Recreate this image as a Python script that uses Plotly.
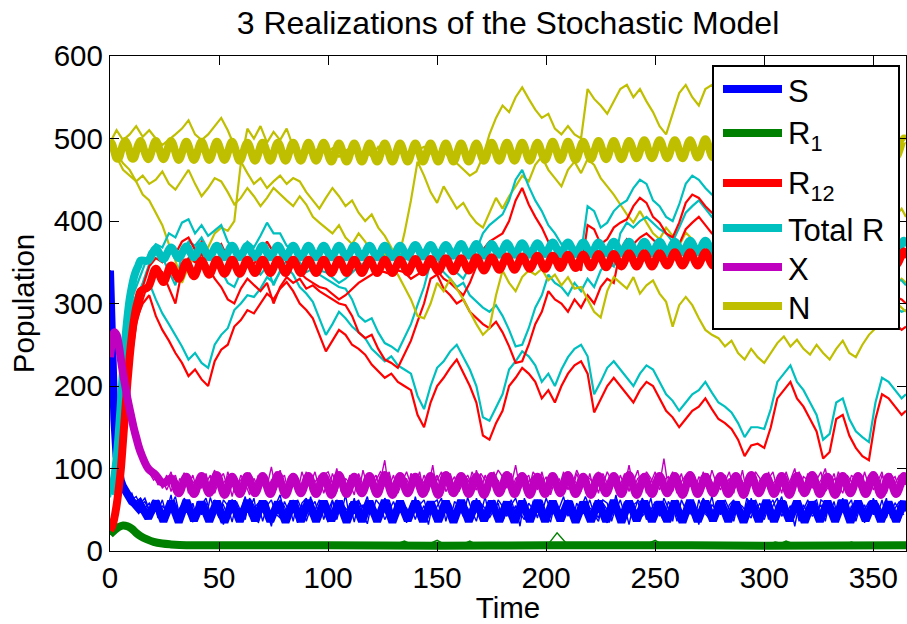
import plotly.graph_objects as go

# ---------------- time grids (sampling instants of the read-off values) ----------------
T3 = list(range(0, 364, 3)) + [365]          # 3-day samples for N / R traces
T2 = list(range(0, 365, 2))                  # 2-day samples for S / X traces
T5 = list(range(0, 366, 5))                  # 5-day samples for R1 traces
TD = list(range(0, 15)) + [17.5 + 3.5 * k for k in range(100)] + [365]   # deterministic curves
TR1D = [0, 2, 4, 6, 8, 10, 12, 14, 17, 20, 24, 28, 35, 50, 100, 150, 200, 250, 300, 365]

# ---------------- stochastic realizations: R12 ----------------
R12_A = [22, 55, 140, 230, 280, 300, 310, 285, 268, 255,
         240, 228, 212, 220, 208, 200, 230, 244, 250, 272,
         280, 292, 288, 300, 312, 305, 318, 326, 315, 300,
         292, 282, 262, 242, 255, 268, 262, 250, 245, 238,
         226, 218, 210, 215, 205, 200, 195, 165, 150, 180,
         200, 210, 222, 232, 215, 200, 180, 140, 135, 155,
         170, 200, 210, 222, 215, 205, 185, 195, 180, 200,
         215, 225, 230, 215, 168, 185, 200, 210, 200, 190,
         180, 195, 205, 200, 185, 170, 162, 150, 160, 170,
         175, 185, 172, 160, 155, 148, 135, 115, 128, 130,
         125, 150, 185, 195, 205, 185, 175, 160, 145, 112,
         120, 160, 165, 140, 125, 115, 110, 160, 190, 185,
         175, 165, 170]
TOTR_A = [70, 115, 215, 290, 310, 318, 325, 305, 288, 275,
          262, 248, 232, 240, 228, 222, 250, 262, 270, 292,
          300, 310, 308, 318, 332, 325, 338, 345, 335, 320,
          312, 302, 282, 262, 275, 290, 282, 272, 265, 258,
          245, 238, 230, 236, 225, 220, 215, 188, 172, 200,
          222, 230, 242, 250, 235, 220, 200, 162, 158, 175,
          190, 220, 230, 242, 236, 225, 205, 215, 200, 220,
          235, 245, 250, 236, 190, 205, 222, 230, 220, 210,
          200, 215, 225, 220, 205, 190, 182, 170, 180, 190,
          195, 205, 192, 180, 175, 168, 155, 138, 150, 150,
          148, 172, 205, 215, 225, 205, 195, 180, 165, 135,
          142, 180, 185, 160, 145, 138, 132, 180, 210, 205,
          195, 185, 190]
R12_B = [20, 50, 130, 220, 275, 305, 330, 345, 338, 320,
         300, 340, 355, 350, 360, 345, 330, 320, 305, 300,
         318, 330, 322, 315, 325, 300, 320, 332, 325, 330,
         318, 322, 315, 310, 305, 300, 298, 285, 265, 258,
         262, 245, 232, 228, 222, 238, 255, 278, 300, 330,
         335, 318, 310, 300, 305, 290, 282, 275, 270, 278,
         265, 248, 228, 230, 250, 275, 290, 315, 305, 300,
         290, 305, 295, 310, 300, 320, 330, 325, 365, 378,
         372, 380, 385, 378, 370, 365, 355, 372, 390, 398,
         405, 395, 385, 380, 375, 370, 365, 360, 355, 350,
         345, 340, 335, 330, 325, 320, 318, 315, 310, 305,
         300, 300, 295, 300, 292, 288, 285, 290, 285, 280,
         275, 268, 272]
TOTR_B = [65, 105, 205, 280, 305, 325, 348, 362, 356, 340,
          322, 360, 375, 370, 380, 365, 350, 340, 325, 320,
          338, 350, 342, 335, 345, 322, 340, 352, 345, 350,
          338, 342, 335, 330, 325, 320, 318, 305, 285, 278,
          282, 265, 252, 248, 242, 258, 275, 298, 320, 350,
          355, 338, 330, 320, 325, 310, 302, 295, 290, 298,
          285, 268, 248, 250, 270, 295, 310, 335, 325, 320,
          310, 325, 315, 330, 320, 340, 350, 345, 385, 398,
          392, 400, 405, 398, 390, 385, 375, 392, 410, 418,
          425, 415, 405, 400, 395, 390, 385, 380, 375, 370,
          365, 360, 355, 350, 345, 340, 338, 335, 330, 325,
          320, 320, 315, 320, 312, 308, 305, 310, 305, 300,
          295, 290, 292]
R12_C = [25, 60, 150, 240, 290, 320, 345, 355, 350, 365,
         360, 375, 380, 365, 375, 360, 365, 372, 355, 345,
         340, 355, 348, 360, 375, 362, 365, 350, 345, 338,
         330, 325, 320, 318, 312, 305, 310, 318, 325, 330,
         335, 340, 338, 335, 340, 338, 330, 335, 340, 345,
         340, 330, 325, 318, 310, 325, 345, 365, 375, 380,
         385, 400, 425, 440, 420, 405, 392, 375, 365, 352,
         355, 348, 340, 395, 390, 372, 378, 392, 398, 402,
         418, 428, 422, 405, 398, 385, 380, 398, 422, 432,
         428, 418, 410, 405, 400, 395, 390, 385, 380, 375,
         370, 365, 360, 355, 350, 345, 342, 340, 338, 335,
         332, 330, 328, 325, 322, 320, 318, 315, 312, 310,
         308, 305, 300]
TOTR_C = [75, 120, 220, 300, 320, 340, 362, 372, 368, 385,
          380, 398, 402, 385, 395, 382, 388, 395, 375, 365,
          360, 375, 368, 382, 398, 385, 385, 370, 365, 358,
          350, 345, 340, 338, 332, 325, 330, 338, 345, 350,
          355, 360, 358, 355, 360, 358, 350, 355, 360, 365,
          360, 350, 345, 338, 330, 345, 365, 385, 395, 402,
          408, 425, 450, 462, 442, 425, 412, 395, 385, 372,
          375, 368, 360, 418, 412, 392, 398, 412, 420, 425,
          440, 450, 445, 425, 418, 405, 400, 420, 445, 455,
          450, 440, 432, 428, 422, 418, 412, 408, 402, 398,
          392, 388, 382, 378, 372, 368, 365, 362, 360, 358,
          355, 352, 350, 348, 345, 342, 340, 338, 335, 332,
          330, 328, 322]

# ---------------- stochastic realizations: N ----------------
N_A = [495, 510, 498, 505, 515, 502, 510, 500, 492, 498,
       505, 512, 522, 505, 498, 505, 515, 525, 510, 490,
       472, 458, 445, 452, 440, 448, 455, 445, 452, 448,
       435, 425, 415, 428, 440, 430, 418, 425, 410, 400,
       408, 392, 382, 368, 352, 385, 425, 472, 455, 435,
       422, 442, 428, 415, 422, 408, 398, 392, 410, 428,
       415, 430, 442, 455, 448, 468, 478, 462, 452, 442,
       462, 472, 458, 475, 468, 452, 442, 432, 420, 408,
       398, 412, 398, 385, 378, 392, 382, 370, 386, 378,
       366, 358, 352, 348, 355, 345, 338, 345, 335, 330,
       338, 345, 335, 328, 335, 325, 318, 325, 332, 320,
       315, 322, 330, 318, 312, 320, 328, 318, 325, 330,
       322, 330, 325]
N_B = [490, 482, 470, 462, 448, 432, 425, 410, 395, 372,
       352, 325, 345, 358, 348, 368, 385, 392, 388, 400,
       470, 512, 500, 515, 495, 508, 498, 512, 490, 478,
       485, 480, 490, 482, 488, 478, 485, 490, 480, 486,
       478, 490, 484, 480, 488, 482, 478, 486, 490, 482,
       478, 485, 475, 470, 462, 455, 460, 478, 505, 525,
       540, 532, 550, 562, 548, 535, 525, 530, 512, 505,
       515, 505, 500, 560, 548, 540, 530, 545, 560, 565,
       550, 560, 545, 532, 515, 505, 530, 555, 565, 550,
       540, 560, 565, 555, 540, 530, 520, 510, 500, 490,
       480, 470, 465, 455, 448, 440, 435, 428, 422, 430,
       425, 418, 410, 420, 415, 408, 400, 410, 402, 395,
       405, 415, 405]
N_C = [492, 478, 462, 455, 448, 455, 445, 450, 460, 445,
       438, 450, 462, 445, 430, 440, 452, 448, 435, 420,
       428, 440, 430, 418, 428, 440, 432, 425, 418, 430,
       420, 405, 398, 392, 385, 395, 380, 372, 385, 375,
       362, 355, 362, 345, 335, 320, 305, 285, 282, 300,
       325, 315, 330, 318, 305, 290, 275, 262, 270, 310,
       340, 325, 315, 332, 340, 335, 342, 328, 335, 322,
       332, 318, 320, 305, 290, 283, 315, 332, 325, 318,
       332, 312, 322, 328, 312, 302, 272, 298, 308, 298,
       282, 268, 262, 258, 248, 255, 240, 232, 245, 235,
       228, 240, 252, 260, 248, 256, 245, 238, 250, 240,
       232, 245, 255, 240, 235, 250, 262, 270, 282, 295,
       302, 295, 290]

# ---------------- stochastic realizations: S ----------------
S_A = [340, 155, 100, 82, 72, 66, 60, 64, 52, 58,
       45, 62, 50, 38, 55, 66, 42, 58, 48, 35,
       60, 52, 40, 65, 48, 55, 32, 58, 62, 45,
       52, 38, 64, 55, 42, 60, 48, 30, 56, 68,
       44, 58, 36, 62, 50, 45, 66, 40, 55, 48,
       35, 60, 52, 44, 68, 38, 55, 62, 45, 33,
       58, 50, 42, 64, 56, 36, 60, 48, 52, 40,
       66, 45, 55, 32, 58, 62, 44, 50, 38, 60,
       54, 42, 65, 48, 36, 58, 52, 45, 62, 38,
       50, 60, 44, 55, 30, 64, 48, 56, 40, 62,
       46, 35, 58, 52, 66, 42, 55, 38, 60, 48,
       62, 44, 36, 58, 50, 45, 68, 40, 54, 32,
       56, 60, 42, 48, 64, 38, 52, 58, 44, 55,
       36, 62, 50, 45, 58, 32, 60, 48, 66, 42,
       52, 40, 56, 62, 44, 50, 35, 64, 48, 58,
       45, 60, 38, 52, 66, 44, 55, 30, 58, 50,
       62, 42, 48, 56, 36, 60, 52, 45, 64, 38,
       55, 48, 60, 34, 58, 50, 44, 62, 40, 56,
       48, 36, 52]
S_B = [340, 165, 108, 85, 75, 62, 66, 55, 60, 48,
       62, 40, 55, 48, 68, 36, 52, 60, 44, 58,
       38, 56, 64, 45, 52, 40, 62, 55, 35, 60,
       48, 66, 42, 52, 58, 36, 55, 62, 45, 40,
       60, 48, 55, 34, 58, 64, 42, 50, 62, 38,
       56, 44, 62, 50, 40, 58, 35, 60, 52, 66,
       42, 62, 55, 38, 50, 60, 45, 56, 34, 58,
       50, 60, 40, 58, 46, 54, 64, 36, 58, 44,
       62, 55, 38, 60, 52, 44, 66, 40, 50, 58,
       36, 48, 62, 44, 58, 52, 38, 60, 55, 46,
       64, 50, 44, 40, 55, 62, 36, 58, 48, 52,
       40, 58, 62, 46, 34, 56, 50, 62, 44, 60,
       48, 38, 64, 55, 42, 58, 46, 36, 60, 52,
       58, 46, 40, 62, 52, 48, 64, 55, 38, 60,
       44, 62, 50, 36, 58, 54, 46, 40, 62, 48,
       60, 38, 55, 64, 42, 52, 48, 60, 36, 56,
       46, 58, 62, 40, 54, 44, 60, 38, 52, 62,
       40, 60, 46, 56, 42, 64, 52, 36, 58, 48,
       58, 50, 44]
S_C = [340, 145, 92, 78, 66, 70, 55, 58, 64, 50,
       55, 48, 62, 42, 50, 58, 38, 64, 55, 46,
       52, 44, 58, 36, 62, 50, 56, 42, 60, 54,
       38, 58, 50, 64, 34, 52, 60, 44, 50, 62,
       54, 40, 62, 46, 56, 36, 52, 60, 42, 58,
       48, 62, 38, 58, 52, 46, 64, 40, 56, 50,
       60, 36, 52, 48, 62, 44, 56, 58, 40, 54,
       38, 56, 62, 44, 52, 36, 58, 60, 48, 42,
       58, 46, 52, 38, 64, 50, 40, 56, 44, 62,
       54, 42, 56, 64, 46, 38, 58, 50, 62, 44,
       40, 60, 52, 46, 38, 56, 60, 44, 52, 66,
       52, 48, 40, 62, 58, 36, 54, 46, 60, 48,
       44, 62, 56, 38, 50, 60, 42, 64, 52, 36,
       62, 40, 58, 52, 36, 62, 48, 42, 56, 50,
       58, 48, 42, 60, 52, 38, 64, 56, 44, 50,
       38, 54, 62, 46, 50, 60, 36, 58, 52, 44,
       56, 50, 38, 62, 58, 46, 40, 62, 48, 54,
       62, 36, 54, 50, 60, 44, 58, 48, 64, 40,
       52, 60, 46]

# ---------------- stochastic realizations: X ----------------
X_A = [235, 262, 250, 215, 190, 162, 140, 122, 108, 98,
       90, 85, 78, 92, 72, 88, 80, 95, 70, 84,
       78, 92, 68, 86, 98, 74, 82, 90, 66, 88,
       80, 72, 95, 84, 70, 90, 78, 102, 74, 86,
       92, 68, 82, 88, 76, 96, 72, 84, 90, 70,
       86, 78, 100, 72, 88, 82, 68, 94, 80, 76,
       90, 74, 86, 110, 70, 84, 92, 76, 88, 72,
       82, 96, 70, 86, 80, 92, 74, 88, 68, 84,
       94, 76, 88, 72, 98, 82, 70, 90, 78, 86,
       72, 88, 80, 104, 74, 86, 92, 70, 84, 80,
       90, 68, 86, 78, 96, 74, 88, 82, 72, 92,
       78, 86, 70, 94, 82, 76, 90, 68, 88, 80,
       84, 98, 74, 86, 72, 90, 80, 112, 76, 88,
       70, 84, 92, 78, 86, 72, 96, 80, 74, 90,
       82, 76, 88, 70, 94, 84, 78, 90, 72, 86,
       92, 74, 82, 88, 70, 96, 80, 76, 90, 84,
       72, 90, 78, 86, 100, 74, 88, 80, 70, 92,
       84, 78, 94, 72, 86, 80, 90, 74, 88, 76,
       82, 92, 78]
X_B = [240, 268, 245, 210, 182, 158, 135, 118, 104, 95,
       86, 92, 76, 84, 96, 70, 88, 78, 92, 74,
       86, 76, 94, 72, 84, 90, 70, 96, 80, 74,
       92, 82, 68, 88, 78, 94, 72, 86, 80, 98,
       74, 90, 84, 70, 96, 80, 88, 74, 92, 82,
       70, 94, 80, 88, 74, 92, 84, 70, 98, 78,
       84, 92, 72, 80, 96, 74, 86, 90, 70, 94,
       88, 74, 92, 78, 104, 70, 86, 82, 94, 76,
       80, 90, 74, 96, 84, 72, 92, 78, 86, 98,
       90, 76, 94, 70, 86, 82, 74, 96, 88, 72,
       82, 94, 74, 88, 70, 92, 80, 98, 86, 74,
       94, 72, 88, 80, 96, 84, 74, 92, 78, 104,
       76, 88, 92, 70, 84, 96, 74, 86, 90, 72,
       88, 76, 80, 96, 72, 90, 84, 76, 98, 82,
       74, 92, 80, 86, 76, 98, 70, 88, 84, 78,
       80, 88, 96, 74, 92, 78, 86, 100, 72, 90,
       86, 76, 92, 70, 84, 90, 76, 96, 82, 74,
       92, 86, 74, 96, 78, 88, 72, 92, 80, 94,
       76, 86, 90]
X_C = [232, 258, 255, 220, 195, 168, 145, 125, 110, 100,
       94, 80, 88, 74, 86, 92, 72, 86, 80, 92,
       72, 88, 82, 92, 70, 86, 94, 76, 90, 80,
       86, 94, 76, 72, 92, 80, 86, 70, 96, 78,
       82, 76, 94, 86, 72, 88, 82, 96, 74, 92,
       96, 82, 72, 90, 84, 70, 92, 86, 76, 88,
       74, 86, 96, 90, 78, 92, 70, 84, 96, 80,
       94, 80, 84, 72, 90, 86, 96, 72, 82, 90,
       72, 84, 92, 80, 74, 94, 86, 72, 96, 80,
       84, 96, 72, 88, 92, 76, 84, 90, 74, 96,
       76, 86, 92, 70, 84, 88, 72, 94, 80, 86,
       88, 80, 96, 74, 70, 92, 86, 80, 94, 72,
       92, 74, 82, 96, 88, 76, 92, 72, 84, 96,
       80, 94, 72, 86, 90, 78, 74, 94, 84, 70,
       90, 84, 96, 74, 82, 72, 92, 80, 96, 88,
       74, 96, 72, 84, 86, 90, 74, 82, 96, 76,
       94, 82, 86, 96, 72, 80, 94, 72, 88, 84,
       76, 94, 88, 80, 92, 74, 84, 96, 70, 86,
       90, 74, 84]

# ---------------- stochastic realizations: R1 ----------------
R1_A = [20, 31, 27, 16, 10, 8, 6, 7, 5, 6,
        8, 5, 7, 6, 9, 5, 7, 6, 5, 8,
        6, 7, 5, 8, 6, 5, 7, 12, 6, 5,
        7, 6, 8, 5, 6, 7, 5, 6, 8, 6,
        5, 22, 7, 6, 5, 8, 6, 7, 5, 6,
        9, 6, 5, 7, 6, 8, 5, 6, 7, 5,
        6, 11, 8, 6, 5, 7, 6, 9, 5, 7,
        6, 5, 7, 6]
R1_B = [20, 28, 30, 18, 12, 7, 8, 5, 7, 6,
        5, 7, 6, 8, 5, 6, 7, 5, 8, 6,
        7, 5, 6, 5, 7, 6, 8, 6, 5, 7,
        13, 6, 5, 7, 6, 5, 7, 8, 6, 5,
        7, 6, 5, 8, 6, 7, 5, 6, 7, 5,
        6, 8, 5, 6, 7, 5, 6, 8, 6, 7,
        5, 6, 12, 7, 5, 6, 8, 5, 6, 7,
        8, 6, 5, 7]
R1_C = [20, 33, 25, 14, 9, 6, 7, 6, 8, 5,
        7, 6, 5, 7, 6, 8, 5, 7, 6, 5,
        6, 8, 7, 5, 6, 7, 5, 6, 7, 6,
        5, 7, 6, 12, 5, 7, 6, 5, 7, 8,
        6, 5, 7, 6, 8, 5, 7, 6, 5, 7,
        13, 5, 7, 6, 5, 7, 6, 5, 8, 6,
        7, 5, 6, 8, 6, 5, 7, 6, 11, 6,
        5, 7, 6, 5]

# ---------------- deterministic (thick) curves on TD ----------------
N_DET = [497, 493, 484, 476, 476, 484, 493, 497, 493, 484, 476, 476, 484, 493, 497,
         475, 497, 475, 497, 474, 496, 474, 496, 474, 496, 474, 496, 473, 495,
         473, 495, 473, 495, 473, 495, 473, 495, 473, 495, 472, 494, 472, 494,
         472, 494, 472, 494, 472, 494, 472, 494, 472, 494, 472, 494, 472, 494,
         472, 494, 473, 495, 473, 495, 473, 495, 473, 495,
         474, 496, 474, 496, 474, 496, 475, 497, 475, 497, 475, 497, 476, 498,
         476, 498, 476, 498, 476, 498, 477, 499, 477, 499,
         477, 499, 477, 499, 478, 500, 478, 500, 478, 500, 478, 500, 478, 500,
         478, 500, 478, 500, 478, 500, 478, 500, 478, 500,
         499]
R12_DET = [25, 30, 40, 55, 75, 100, 135, 170, 205, 235, 260, 280, 295, 305, 315,
           320, 342, 326, 346, 330, 350, 333, 352, 335, 353, 336, 353, 336, 353,
           337, 353, 337, 353, 337, 353, 337, 353, 337, 353, 337, 353, 337, 353,
           337, 353, 337, 353, 337, 353, 338, 354, 338, 354, 339, 355, 339, 355,
           340, 356, 340, 356, 341, 357, 341, 357, 342, 358,
           342, 358, 343, 359, 343, 359, 344, 360, 344, 360, 345, 361, 345, 361,
           345, 361, 346, 362, 346, 362, 346, 362, 346, 362,
           346, 362, 347, 363, 347, 363, 347, 363, 347, 363, 347, 363, 347, 363,
           347, 363, 347, 363, 347, 363, 347, 363, 347, 363,
           355]
TOTR_DET = [70, 75, 90, 112, 142, 180, 220, 255, 283, 305, 320, 332, 340, 346, 352,
            352, 366, 354, 368, 355, 369, 356, 370, 356, 370, 356, 370, 356, 370,
            356, 370, 356, 370, 356, 370, 356, 370, 356, 370, 356, 370, 356, 370,
            356, 370, 356, 370, 356, 370, 357, 371, 357, 371, 357, 371, 358, 372,
            358, 372, 358, 372, 359, 373, 359, 373, 359, 373,
            360, 374, 360, 374, 360, 374, 360, 374, 361, 375, 361, 375, 361, 375,
            361, 375, 361, 375, 362, 376, 362, 376, 362, 376,
            362, 376, 362, 376, 362, 376, 362, 376, 362, 376, 362, 376, 362, 376,
            362, 376, 362, 376, 362, 376, 362, 376, 362, 376,
            369]
X_DET = [235, 255, 265, 262, 250, 232, 215, 200, 185, 172, 160, 148, 138, 128, 120,
         100, 92, 82, 88, 70, 90,
         69, 91, 70, 92, 68, 90, 69, 91, 70, 91, 69, 92, 68, 90, 70, 91, 69, 91, 68, 92,
         69, 90, 70, 91, 69, 92, 68, 91, 70, 90, 69, 91, 68, 92, 70, 91, 69, 90, 68, 91,
         70, 92, 69, 91, 68, 90, 69, 91, 70, 92, 69, 90, 68, 91, 70, 91, 69, 92, 68, 90,
         69, 91, 70, 91, 68, 92, 69, 90, 70, 91, 69, 91, 68, 92, 70, 90, 69, 91, 68, 91,
         70, 92, 69, 90, 68, 91, 70, 91, 69, 92, 68, 90, 69, 91,
         80]
S_DET = [340, 230, 160, 115, 95, 85, 78, 72, 68, 64, 60, 58, 55, 52, 56,
         40, 60, 36, 60, 35, 61, 37, 59, 36, 60, 35, 60, 36, 61,
         37, 60, 36, 59, 35, 60, 36, 61, 36, 60, 37, 60, 35, 59,
         36, 60, 36, 61, 35, 60, 37, 60, 36, 59, 36, 60, 35, 61,
         36, 60, 37, 60, 36, 59, 35, 60, 36, 61,
         36, 60, 37, 60, 35, 59, 36, 60, 36, 61, 35, 60, 37, 60,
         36, 59, 36, 60, 35, 61, 36, 60, 37, 60,
         36, 59, 35, 60, 36, 61, 36, 60, 37, 60, 35, 59, 36, 60,
         36, 61, 35, 60, 37, 60, 36, 59, 36, 60,
         48]
R1_DET = [20, 25, 29, 31, 30, 27, 22, 18, 14, 11, 9, 8, 7, 7, 7, 6.5, 7, 7, 6.5, 7]

for name, arr, grid in [("R12_A", R12_A, T3), ("TOTR_A", TOTR_A, T3), ("R12_B", R12_B, T3),
                        ("TOTR_B", TOTR_B, T3), ("R12_C", R12_C, T3), ("TOTR_C", TOTR_C, T3),
                        ("N_A", N_A, T3), ("N_B", N_B, T3), ("N_C", N_C, T3),
                        ("S_A", S_A, T2), ("S_B", S_B, T2), ("S_C", S_C, T2),
                        ("X_A", X_A, T2), ("X_B", X_B, T2), ("X_C", X_C, T2),
                        ("R1_A", R1_A, T5), ("R1_B", R1_B, T5), ("R1_C", R1_C, T5),
                        ("N_DET", N_DET, TD), ("R12_DET", R12_DET, TD), ("TOTR_DET", TOTR_DET, TD),
                        ("X_DET", X_DET, TD), ("S_DET", S_DET, TD), ("R1_DET", R1_DET, TR1D)]:
    assert len(arr) == len(grid), (name, len(arr), len(grid))

# ---------------- styling ----------------
COL = {"S": "#0000FF", "R1": "#008000", "R12": "#FF0000",
       "TOTR": "#00BFBF", "X": "#BF00BF", "N": "#BFBF00"}
THIN_WALK = 2.2      # N / R realizations
THIN_BAND = 1.4      # S / X / R1 realizations
THICK = 8

fig = go.Figure()

realizations = [
    (S_A, R1_A, R12_A, TOTR_A, X_A, N_A),
    (S_B, R1_B, R12_B, TOTR_B, X_B, N_B),
    (S_C, R1_C, R12_C, TOTR_C, X_C, N_C),
]
for s, r1, r12, tr, x, n in realizations:
    for grid, vals, key, w in [(T2, s, "S", THIN_BAND), (T5, r1, "R1", THIN_BAND),
                               (T3, r12, "R12", THIN_WALK), (T3, tr, "TOTR", THIN_WALK),
                               (T2, x, "X", THIN_BAND), (T3, n, "N", THIN_WALK)]:
        fig.add_trace(go.Scatter(x=grid, y=vals, mode="lines", showlegend=False,
                                 hoverinfo="skip",
                                 line=dict(color=COL[key], width=w)))

for grid, vals, key, shape in [(TD, S_DET, "S", "linear"), (TR1D, R1_DET, "R1", "spline"),
                               (TD, TOTR_DET, "TOTR", "spline"), (TD, R12_DET, "R12", "spline"),
                               (TD, X_DET, "X", "spline"), (TD, N_DET, "N", "spline")]:
    fig.add_trace(go.Scatter(x=grid, y=vals, mode="lines", showlegend=False,
                             hoverinfo="skip",
                             line=dict(color=COL[key], width=THICK, shape=shape)))

# ---------------- layout ----------------
W, H = 907, 624
L, R, T, B = 110, 1, 56, 73
PW, PH = W - L - R, H - T - B


def fx(px):
    return (px - L) / PW


def fy(py):
    return (H - B - py) / PH


FONT = "Liberation Sans, Arial, Helvetica, sans-serif"
axis_common = dict(showline=True, linecolor="black", linewidth=1.3, mirror="ticks",
                   ticks="inside", ticklen=9, tickwidth=1.2, tickcolor="black",
                   showgrid=False, zeroline=False,
                   tickfont=dict(family=FONT, size=29.5, color="black"))

fig.update_layout(
    width=W, height=H,
    margin=dict(l=L, r=R, t=T, b=B),
    paper_bgcolor="white", plot_bgcolor="white",
    font=dict(family=FONT, color="black"),
    title=dict(text="3 Realizations of the Stochastic Model",
               font=dict(family=FONT, size=32, color="black"),
               x=0.5, xref="paper", xanchor="center",
               y=1 - 23 / H, yref="container", yanchor="middle"),
    xaxis=dict(range=[0, 365], tickvals=[0, 50, 100, 150, 200, 250, 300, 350],
               title=dict(text="Time", font=dict(family=FONT, size=29.5), standoff=0),
               **axis_common),
    yaxis=dict(range=[0, 600], tickvals=[0, 100, 200, 300, 400, 500, 600],
               title=dict(text="Population", font=dict(family=FONT, size=29.5), standoff=10),
               **axis_common),
    showlegend=False,
)

# ---------------- legend (drawn as shapes + text) ----------------
LEG_BOX = (713, 66, 899, 329)
LEG_ITEMS = [("S", "S", 89, 91), ("R1", "R<sub>1</sub>", 133, 136),
             ("R12", "R<sub>12</sub>", 183, 186), ("TOTR", "Total R", 228, 230),
             ("X", "X", 267, 269), ("N", "N", 306, 308)]

shapes = [dict(type="rect", xref="paper", yref="paper",
               x0=fx(LEG_BOX[0]), x1=fx(LEG_BOX[2]), y0=fy(LEG_BOX[3]), y1=fy(LEG_BOX[1]),
               line=dict(color="black", width=2), fillcolor="white", layer="above")]
annotations = []
for key, label, ly, ty in LEG_ITEMS:
    shapes.append(dict(type="line", xref="paper", yref="paper",
                       x0=fx(723), x1=fx(782), y0=fy(ly), y1=fy(ly),
                       line=dict(color=COL[key], width=THICK), layer="above"))
    annotations.append(dict(text=label, xref="paper", yref="paper",
                            x=fx(786), y=fy(ty), xanchor="left", yanchor="middle",
                            showarrow=False,
                            font=dict(family=FONT, size=31, color="black")))
fig.update_layout(shapes=shapes, annotations=annotations)

fig.write_html("out.html")
